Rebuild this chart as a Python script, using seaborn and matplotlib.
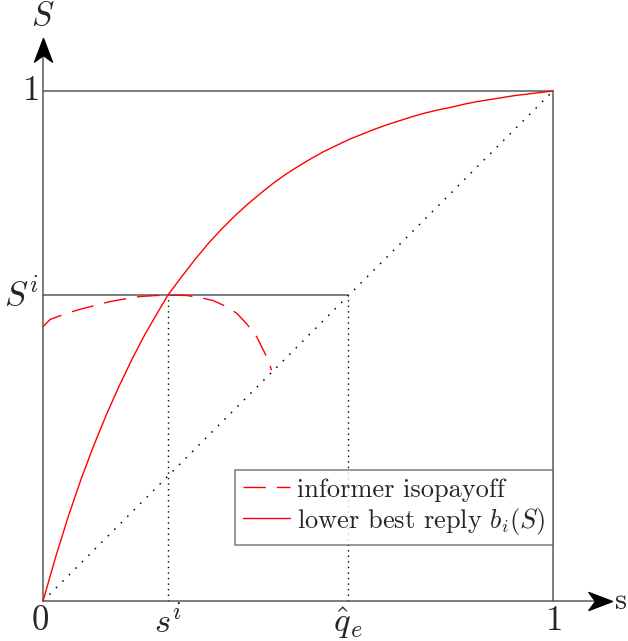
import numpy as np
import pandas as pd
import matplotlib
matplotlib.use("Agg")
import matplotlib.pyplot as plt
import seaborn as sns

# values (unit square)
s_i = 0.245
q_e = 0.598
S_i = 0.6

best_x = [0.0, 0.025, 0.05, 0.075, 0.1, 0.125, 0.15, 0.175, 0.2, 0.225, 0.245,
          0.275, 0.3, 0.325, 0.35, 0.375, 0.4, 0.425, 0.45, 0.475, 0.5,
          0.525, 0.55, 0.575, 0.6, 0.625, 0.65, 0.675, 0.7, 0.725, 0.75,
          0.775, 0.8, 0.825, 0.85, 0.875, 0.9, 0.925, 0.95, 0.975, 1.0]
best_y = [0.0, 0.087, 0.167, 0.240, 0.306, 0.367, 0.423, 0.475, 0.523, 0.566, 0.6,
          0.640, 0.672, 0.702, 0.729, 0.754, 0.777, 0.798, 0.818, 0.836, 0.852,
          0.867, 0.881, 0.893, 0.905, 0.915, 0.925, 0.934, 0.942, 0.950, 0.957,
          0.963, 0.968, 0.974, 0.979, 0.983, 0.987, 0.991, 0.994, 0.997, 1.0]

iso_x = [0.0, 0.014, 0.046, 0.073, 0.112, 0.131, 0.164, 0.19, 0.223, 0.245,
         0.282, 0.308, 0.334, 0.36, 0.38, 0.399, 0.419, 0.432, 0.442, 0.448]
iso_y = [0.538, 0.552, 0.564, 0.572, 0.582, 0.587, 0.593, 0.597, 0.599, 0.6,
         0.599, 0.595, 0.589, 0.577, 0.564, 0.544, 0.518, 0.492, 0.472, 0.453]

x_ticks = [0, s_i, q_e, 1]
x_labels = ["$0$", "$s^i$", r"$\hat{q}_e$", "$1$"]
y_ticks = [1, S_i]
y_labels = ["$1$", "$S^i$"]

sns.set_style("white")
plt.rcParams["font.family"] = ["serif"]
plt.rcParams["font.serif"] = ["cmr10", "DejaVu Serif"]
plt.rcParams["mathtext.fontset"] = "cm"
plt.rcParams["axes.unicode_minus"] = False

fig = plt.figure(figsize=(6.28, 6.41), dpi=100)
ax = fig.add_axes([0, 0, 1, 1])
ax.set_xlim(-43 / 510, (628 - 43) / 510)
ax.set_ylim((601 - 641) / 510, 601 / 510)
ax.axis("off")

grey = "#5a5a5a"
# box and guide lines
ax.plot([0, 1], [1, 1], color=grey, lw=1.1)
ax.plot([1, 1], [0, 1], color=grey, lw=1.1)
ax.plot([0, q_e], [S_i, S_i], color=grey, lw=1.1)
ax.plot([0, 1], [0, 1], color="black", lw=1.1, linestyle=(0, (1, 5)))
ax.plot([s_i, s_i], [0, S_i], color="black", lw=1.0, linestyle=(0, (1, 3)))
ax.plot([q_e, q_e], [0, S_i], color="black", lw=1.0, linestyle=(0, (1, 3)))

# axes with stealth-style arrow heads
ax.plot([0, 1.09], [0, 0], color=grey, lw=1.1)
ax.plot([0, 0], [0, 1.08], color=grey, lw=1.1)
head_right = [(0, 0), (-1, 0.38), (-0.72, 0), (-1, -0.38), (0, 0)]
head_up = [(0, 0), (0.38, -1), (0, -0.72), (-0.38, -1), (0, 0)]
ax.plot([1.115], [0], marker=head_right, markersize=34, color="black", lw=0)
ax.plot([0], [1.104], marker=head_up, markersize=34, color="black", lw=0)

iso = pd.DataFrame({"s": iso_x, "S": iso_y})
best = pd.DataFrame({"s": best_x, "S": best_y})
sns.lineplot(data=iso, x="s", y="S", sort=False, color="red", lw=1.0,
             linestyle=(0, (16, 8)), ax=ax, label="informer isopayoff")
sns.lineplot(data=best, x="s", y="S", sort=False, color="red", lw=1.0,
             ax=ax, label=r"lower best reply $b_i(S)$")

# tick labels
for xv, lab in zip(x_ticks, x_labels):
    ax.text(xv - (0.006 if xv == 0 else 0), -0.008, lab, ha="center", va="top", fontsize=25)
for yv, lab in zip(y_ticks, y_labels):
    ax.text(-0.008, yv, lab, ha="right", va="center", fontsize=25)
ax.text(0, 1.147, "$S$", ha="center", va="center", fontsize=24)
ax.text(1.121, 0, "s", ha="left", va="center", fontsize=22)

leg = ax.legend(loc="upper right", bbox_to_anchor=(553 / 628, 1 - 470 / 641),
                bbox_transform=fig.transFigure, borderaxespad=0, fancybox=False,
                frameon=True, edgecolor=grey, fontsize=19, handlelength=1.8,
                handletextpad=0.25, borderpad=0.3, labelspacing=0.15)
leg.get_frame().set_linewidth(1.1)
for h in leg.get_lines():
    h.set_linewidth(1.0)

fig.savefig("out.png", dpi=100)
